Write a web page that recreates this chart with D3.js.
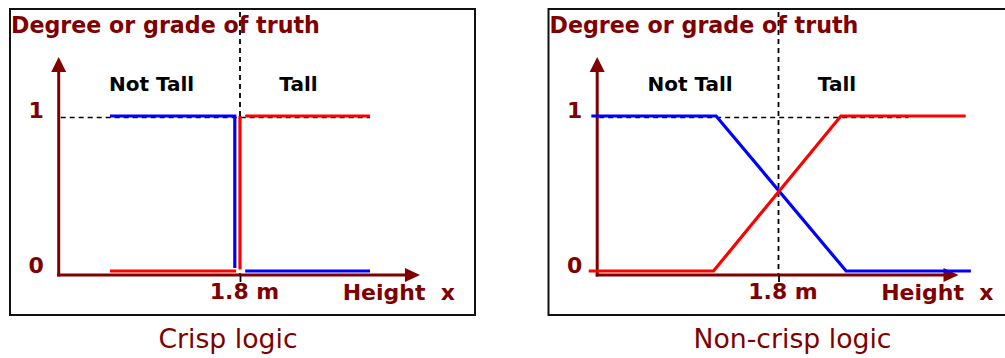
<!DOCTYPE html>
<html>
<head>
<meta charset="utf-8">
<script src="https://cdn.jsdelivr.net/npm/d3@7"></script>
<style>
  body { margin: 0; background: #fff; }
  text { font-family: "DejaVu Sans", Verdana, sans-serif; }
</style>
</head>
<body>
<svg class="svg"></svg>
<script>
// values
let yTicks = [0, 1]
let xTicks = [1.8]
let xUnit = " m"
let yTitle = "Degree or grade of truth"
let xTitle = "Height  x"
let setNames = ["Not Tall", "Tall"]
let captions = ["Crisp logic", "Non-crisp logic"]

// crisp sets (heights in m, membership 0..1), split where the line jumps
let crispNotTall = [
  [[1.3, 1], [1.78, 1], [1.78, 0.02]],
  [[1.82, 0], [2.3, 0]]
]
let crispTall = [
  [[1.3, 0], [1.785, 0]],
  [[1.8, 1], [1.8, 0.01]],
  [[1.82, 1], [2.3, 1]]
]
// fuzzy sets
let fuzzyNotTall = [
  [[1.08, 1], [1.56, 1], [2.06, 0], [2.54, 0]]
]
let fuzzyTall = [
  [[1.07, 0], [1.55, 0], [2.04, 1], [2.52, 1]]
]

let darkRed = "#800000"
let svg = d3.select(".svg").attr("width", 1005).attr("height", 358)

let x = d3.scaleLinear().domain([1.3, 2.3]).range([110, 370])
let y = d3.scaleLinear().domain([0, 1]).range([271, 116])
let line = d3.line().x(d => x(d[0])).y(d => y(d[1]))

let axisX = 58.7, axisY = 275, arrowTopY = 57, arrowRightX = 420

let panels = [
  {dx: 0, caption: captions[0], captionX: 228, notTall: crispNotTall, tall: crispTall},
  {dx: 538.5, caption: captions[1], captionX: 254, notTall: fuzzyNotTall, tall: fuzzyTall}
]

panels.forEach(p => {
  let g = svg.append("g").attr("transform", "translate(" + p.dx + ",0)")

  // frame
  g.append("rect")
    .attr("x", 10).attr("y", 9)
    .attr("width", 465).attr("height", 306)
    .attr("fill", "none").attr("stroke", "#111").attr("stroke-width", 2)

  // dashed guides
  g.append("line")
    .attr("x1", x(xTicks[0])).attr("x2", x(xTicks[0]))
    .attr("y1", 12).attr("y2", axisY)
    .attr("stroke", "#000").attr("stroke-width", 1.8)
    .attr("stroke-dasharray", "5,4")
  g.append("line")
    .attr("x1", axisX + 2).attr("x2", x(2.3))
    .attr("y1", y(1) + 1.5).attr("y2", y(1) + 1.5)
    .attr("stroke", "#000").attr("stroke-width", 1.6)
    .attr("stroke-dasharray", "5,4")

  g.append("text")
    .attr("x", 11).attr("y", 32.5)
    .attr("fill", darkRed).attr("font-weight", "bold").attr("font-size", 22.2)
    .text(yTitle)

  // axes with arrows
  g.append("line")
    .attr("x1", axisX).attr("x2", axisX)
    .attr("y1", axisY + 1.5).attr("y2", arrowTopY + 12)
    .attr("stroke", darkRed).attr("stroke-width", 3)
  g.append("path")
    .attr("d", "M" + axisX + "," + arrowTopY + "L" + (axisX - 7.5) + "," + (arrowTopY + 15) + "L" + (axisX + 7.5) + "," + (arrowTopY + 15) + "Z")
    .attr("fill", darkRed)
  g.append("line")
    .attr("x1", axisX - 1.5).attr("x2", arrowRightX - 12)
    .attr("y1", axisY).attr("y2", axisY)
    .attr("stroke", darkRed).attr("stroke-width", 3)
  g.append("path")
    .attr("d", "M" + arrowRightX + "," + axisY + "L" + (arrowRightX - 15) + "," + (axisY - 7) + "L" + (arrowRightX - 15) + "," + (axisY + 7) + "Z")
    .attr("fill", darkRed)

  let yAxis = g.append("g")
    .attr("transform", "translate(" + axisX + ",0)")
    .call(d3.axisLeft(y).tickValues(yTicks).tickSize(0).tickPadding(15).tickFormat(d3.format("d")))
  yAxis.select(".domain").remove()
  yAxis.selectAll("text")
    .attr("fill", darkRed).attr("font-size", 22).attr("font-weight", "bold")
    .attr("font-family", null).attr("dy", "0.05em")

  let xAxis = g.append("g")
    .attr("transform", "translate(0," + (axisY + 1) + ")")
    .call(d3.axisBottom(x).tickValues(xTicks).tickSize(6).tickPadding(5).tickFormat(d => d + xUnit))
  xAxis.select(".domain").remove()
  xAxis.selectAll("line").attr("stroke", "#000").attr("stroke-width", 1.8)
  xAxis.selectAll("text")
    .attr("fill", darkRed).attr("font-size", 22).attr("font-weight", "bold")
    .attr("font-family", null).attr("dx", 4).attr("dy", "0.55em")

  g.append("text")
    .attr("x", 455).attr("y", 300)
    .attr("text-anchor", "end")
    .attr("fill", darkRed).attr("font-weight", "bold").attr("font-size", 22)
    .style("white-space", "pre")
    .text(xTitle)

  // set names
  g.selectAll(".setname")
    .data(setNames)
    .enter()
    .append("text")
    .attr("class", "setname")
    .attr("x", (d, i) => i == 0 ? x(1.46) : x(2.025))
    .attr("y", y(1.16))
    .attr("text-anchor", "middle")
    .attr("font-weight", "bold").attr("font-size", 20)
    .text(d => d)

  // membership lines
  g.selectAll(".nottall")
    .data(p.notTall)
    .enter()
    .append("path")
    .attr("d", line)
    .attr("fill", "none").attr("stroke", "#0000ff").attr("stroke-width", 3.2)
  g.selectAll(".tall")
    .data(p.tall)
    .enter()
    .append("path")
    .attr("d", line)
    .attr("fill", "none").attr("stroke", "#ff0000").attr("stroke-width", 3.2)

  g.append("text")
    .attr("x", p.captionX).attr("y", 348)
    .attr("text-anchor", "middle")
    .attr("fill", darkRed).attr("font-size", 26.7)
    .text(p.caption)
})
</script>
</body>
</html>
